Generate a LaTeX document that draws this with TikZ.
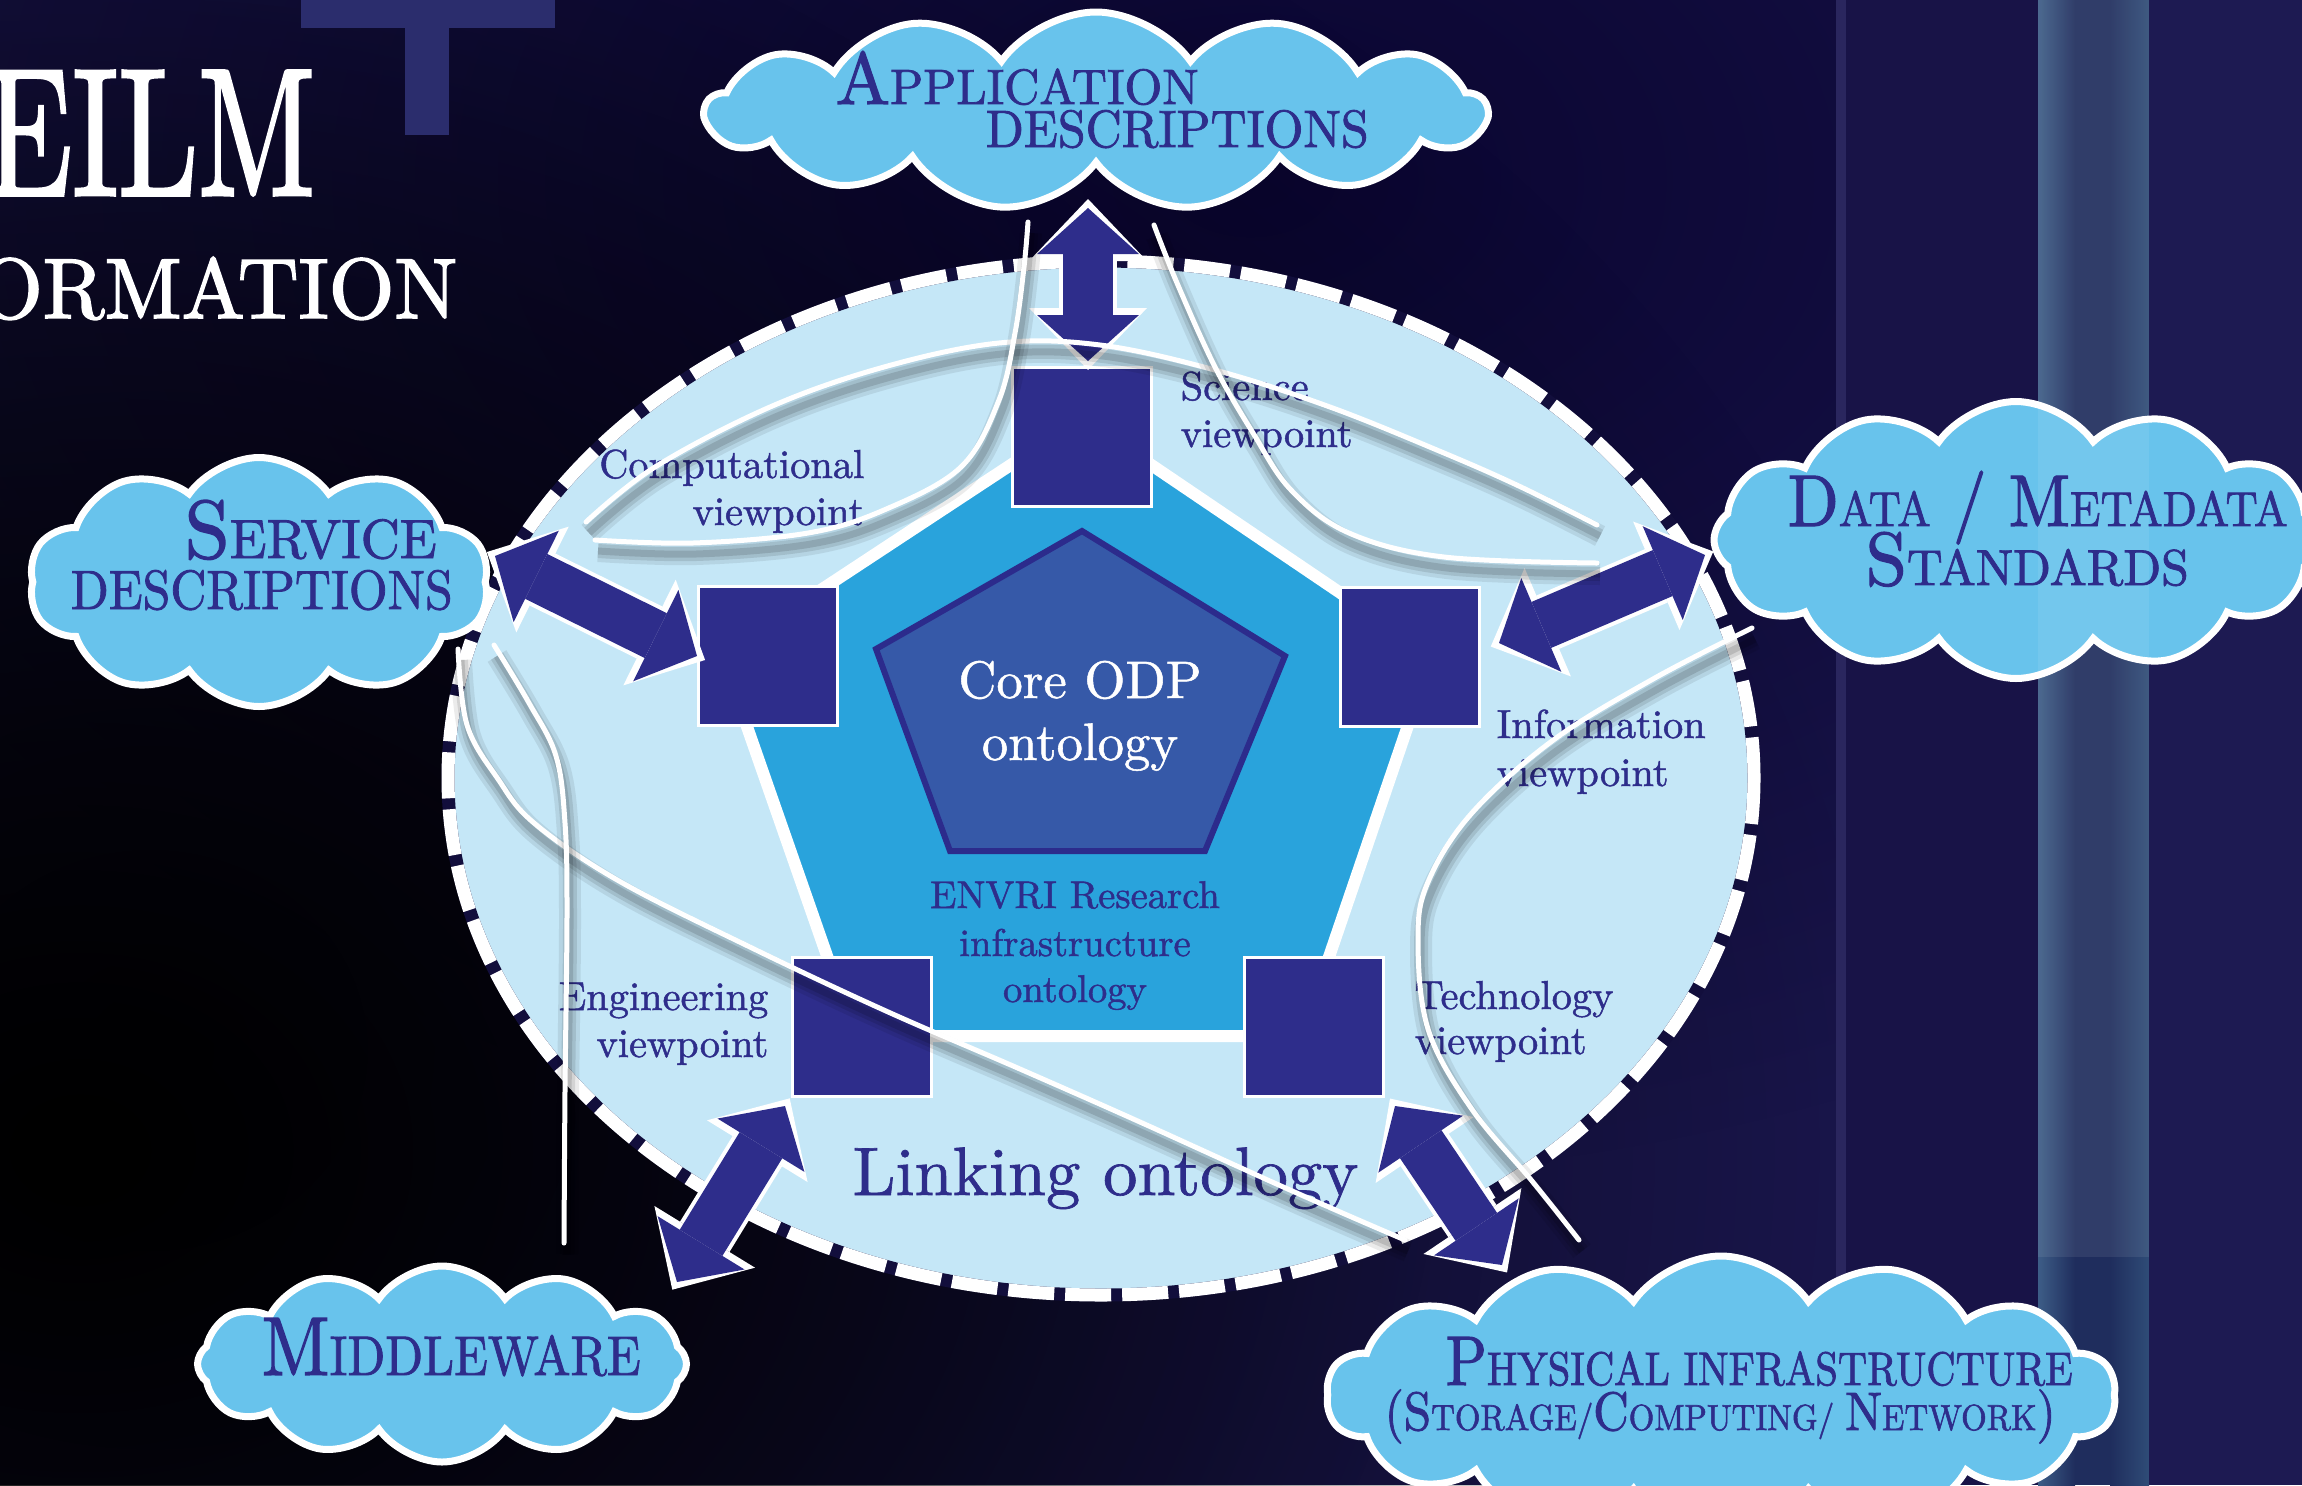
\documentclass[tikz,border=0pt]{standalone}
\usepackage{graphicx}
\usetikzlibrary{shapes.symbols,arrows.meta,fadings}

\definecolor{bg}{HTML}{1B1750}
\definecolor{bgdeep}{HTML}{0A0530}
\definecolor{ink}{HTML}{2E2D8B}
\definecolor{cloudblue}{HTML}{68C3EC}
\definecolor{lensblue}{HTML}{C5E7F7}
\definecolor{pentblue}{HTML}{29A3DC}
\definecolor{corefill}{HTML}{3659A8}
\definecolor{coreline}{HTML}{2C2B8C}
\definecolor{crossbar}{HTML}{2B2D6D}
\definecolor{stripeA}{HTML}{181347}
\definecolor{stripeEdge}{HTML}{2A265E}
\definecolor{stripeL}{HTML}{3D5D87}
\definecolor{stripeM}{HTML}{1F2D5D}
\definecolor{stripeR}{HTML}{2F4C77}
\definecolor{rightbg}{HTML}{1D1A52}
\definecolor{ellipseedge}{HTML}{120E3C}

% slightly emboldened Latin Modern cuts for the lettering
\font\vpfont="[lmroman10-regular.otf]:embolden=1.2" at 11.5pt
\font\envfont="[lmroman10-regular.otf]:embolden=1.2" at 11pt
\font\corefont="[lmroman10-regular.otf]:embolden=1.0" at 15pt
\font\linkfont="[lmroman10-regular.otf]:embolden=1.0" at 19.5pt
\font\capbigfont="[lmroman10-regular.otf]:embolden=1.6" at 20pt
\font\capsmlfont="[lmroman10-regular.otf]:embolden=1.6" at 13.4pt
\font\titlefont="[lmroman10-regular.otf]:embolden=2.0" at 60pt
\font\subtitlefont="[lmroman10-regular.otf]:embolden=2.0" at 40pt

\tikzfading[name=glowfade, inner color=transparent!0, outer color=transparent!100]

\tikzset{
  viewbox/.style={draw=white, line width=0.3mm, fill=ink, minimum width=13.9mm,
    minimum height=13.9mm, inner sep=0pt},
  cloudnode/.style={cloud, cloud ignores aspect, cloud puff arc=110, draw=white,
    line width=0.7mm, fill=cloudblue, inner sep=0pt},
  vplabel/.style={text=ink, inner sep=0pt, font=\vpfont},
  envlabel/.style={text=ink, inner sep=0pt, anchor=base, font=\envfont},
  cloudtext/.style={text=ink, inner sep=0pt, anchor=base west},
  arrowhalo/.style={draw=white, line width=5.8mm,
    {Triangle[width=11.8mm,length=6.2mm,line width=0pt]}-{Triangle[width=11.8mm,length=6.2mm,line width=0pt]},
    shorten <=-0.9mm, shorten >=-0.9mm},
  arrowbody/.style={draw=ink, line width=5mm,
    {Triangle[width=10.2mm,length=4.6mm,line width=0pt]}-{Triangle[width=10.2mm,length=4.6mm,line width=0pt]}},
}

% small-caps lettering built from two sizes of capitals
\newcommand\capbig[1]{{\capbigfont #1}}
\newcommand\capsml[1]{{\capsmlfont #1}}

% thick double-headed block arrow with a white rim
\newcommand\linkarrow[2]{\draw[arrowhalo] #1 -- #2; \draw[arrowbody] #1 -- #2;}

% thin white link line with a soft drop shadow
\newcommand\linkcurve[1]{%
  \begin{scope}[shift={(3,11)}]
    \draw[black, opacity=0.08, line width=2.2mm] plot[smooth, tension=0.6] coordinates {#1};
    \draw[black, opacity=0.10, line width=1.4mm] plot[smooth, tension=0.6] coordinates {#1};
    \draw[black, opacity=0.12, line width=0.7mm] plot[smooth, tension=0.6] coordinates {#1};
  \end{scope}
  \draw[white, line width=0.5mm, line cap=round] plot[smooth, tension=0.6] coordinates {#1};}

\begin{document}
\begin{tikzpicture}[x=0.1mm,y=-0.1mm]
\useasboundingbox (0,0) rectangle (2302,1485);
\clip (0,0) rectangle (2302,1485);

% ---- backdrop ----
\fill[bg] (0,0) rectangle (2302,1485);
\fill[bgdeep, path fading=glowfade] (1250,180) ellipse [x radius=1500, y radius=1000];
\fill[black, path fading=glowfade] (80,1150) ellipse [x radius=1900, y radius=1500];
\fill[black, opacity=0.6, path fading=glowfade] (150,1050) ellipse [x radius=1300, y radius=1200];
\fill[stripeA] (1836,0) rectangle (2038,1485);
\fill[stripeEdge] (1836,0) rectangle (1846,1485);
\fill[stripeM] (2038,0) rectangle (2149,1485);
\shade[left color=stripeL, right color=stripeM] (2038,0) rectangle (2075,1485);
\shade[left color=stripeM, right color=stripeR] (2110,0) rectangle (2149,1485);
\fill[rightbg] (2149,0) rectangle (2302,1485);

% cross ornament and heading fragments
\fill[crossbar] (301,-5) rectangle (555,28);
\fill[crossbar] (405,-5) rectangle (449,135);
\node[anchor=base east, inner sep=0pt, text=white] (titleA) at (316,195)
  {\resizebox{33mm}{12.4mm}{\titlefont EILM}};
\node[anchor=base east, inner sep=0pt, text=white] (titleB) at (458,318)
  {\resizebox{48mm}{6.1mm}{\subtitlefont ORMATION}};

% ---- linking ontology lens ----
\fill[lensblue] (1101,778) ellipse [x radius=653, y radius=517];
\draw[ellipseedge, line width=1.3mm] (1101,778) ellipse [x radius=653, y radius=517];
\draw[white, line width=1.3mm, dash pattern=on 4.6mm off 1.1mm] (1101,778) ellipse [x radius=653, y radius=517];

% ---- research infrastructure pentagon and core ----
\filldraw[fill=pentblue, draw=white, line width=1.2mm, line join=miter]
  (1082,418) -- (1432,655) -- (1302,1036) -- (855,1036) -- (722,655) -- cycle;
\filldraw[fill=corefill, draw=coreline, line width=0.6mm, line join=miter]
  (1082,531) -- (1285,656) -- (1205,851) -- (950,851) -- (876,649) -- cycle;
\node[text=white, inner sep=0pt, anchor=base, font=\corefont] (coreA) at (1080,698) {Core ODP};
\node[text=white, inner sep=0pt, anchor=base, font=\corefont] (coreB) at (1080,760) {ontology};
\node[envlabel] (envA) at (1075,908) {ENVRI Research};
\node[envlabel] (envB) at (1075,956) {infrastructure};
\node[envlabel] (envC) at (1075,1002) {ontology};
\node[text=ink, inner sep=0pt, anchor=base west, font=\linkfont] (linking) at (852,1195) {Linking ontology};

% ---- viewpoint boxes ----
\node[viewbox] (sci)  at (1082,437) {};
\node[viewbox] (comp) at (768,656) {};
\node[viewbox] (info) at (1410,657) {};
\node[viewbox] (eng)  at (862,1027) {};
\node[viewbox] (tech) at (1314,1027) {};

% ---- description clouds ----
\node[cloudnode, cloud puffs=13, minimum width=78mm, minimum height=19.8mm] (app) at (1096,111) {};
\node[cloudnode, cloud puffs=10, minimum width=46mm, minimum height=24.9mm] (svc) at (259,582) {};
\node[cloudnode, cloud puffs=12, minimum width=60.4mm, minimum height=27.7mm] (data) at (2016,540) {};
\node[cloudnode, cloud puffs=12, minimum width=48.9mm, minimum height=19.6mm] (mid) at (442,1364) {};
\node[cloudnode, cloud puffs=14, minimum width=78.9mm, minimum height=27.8mm] (phys) at (1721,1395) {};

% light band crossing the right-hand cloud
\fill[white, opacity=0.08] (2038,0) rectangle (2149,1257);

% ---- arrows between viewpoints and descriptions ----
\linkarrow{([shift={(6,-5)}]sci.north)}{([shift={(-8,97)}]app.center)}
\linkarrow{(comp.west)}{([shift={(236,-26)}]svc.center)}
\linkarrow{([shift={(18,-14)}]info.east)}{([shift={(-311,15)}]data.center)}
\linkarrow{([shift={(-6,8)}]eng.south west)}{([shift={(235,-82)}]mid.center)}
\linkarrow{([shift={(10,8)}]tech.south east)}{([shift={(-219,-130)}]phys.center)}

% ---- cloud lettering ----
\node[cloudtext] (appA) at (835,104) {\resizebox{36.3mm}{5.3mm}{\capbig{A}\capsml{PPLICATION}}};
\node[cloudtext] (appB) at (985,147) {\resizebox{38.3mm}{3.7mm}{\capsml{DESCRIPTIONS}}};
\node[cloudtext] (svcA) at (184,558) {\resizebox{25.2mm}{5.8mm}{\capbig{S}\capsml{ERVICE}}};
\node[cloudtext] (svcB) at (70,609) {\resizebox{38.2mm}{3.9mm}{\capsml{DESCRIPTIONS}}};
\node[cloudtext] (dataA) at (1787,526) {\resizebox{50mm}{5.5mm}{\capbig{D}\capsml{ATA}\capbig{ / M}\capsml{ETADATA}}};
\node[cloudtext] (dataB) at (1865,585) {\resizebox{32.3mm}{5.3mm}{\capbig{S}\capsml{TANDARDS}}};
\node[cloudtext] (midA) at (261,1375) {\resizebox{37.9mm}{5.7mm}{\capbig{M}\capsml{IDDLEWARE}}};
\node[cloudtext] (physA) at (1445,1385) {\resizebox{62.7mm}{4.8mm}{\capbig{P}\capsml{HYSICAL INFRASTRUCTURE}}};
\node[cloudtext] (physB) at (1384,1430) {\resizebox{67.1mm}{4.06mm}{\capbig{(S}\capsml{TORAGE/}\capbig{C}\capsml{OMPUTING/ }\capbig{N}\capsml{ETWORK}\capbig{)}}};

% ---- viewpoint labels ----
\node[vplabel, anchor=base west] (sciA) at (1180,400) {Science};
\node[vplabel, anchor=base west] (sciB) at (1180,447) {viewpoint};
\node[vplabel, anchor=base east] (compA) at (865,478) {Computational};
\node[vplabel, anchor=base east] (compB) at (865,525) {viewpoint};
\node[vplabel, anchor=base west] (infoA) at (1496,738) {Information};
\node[vplabel, anchor=base west] (infoB) at (1496,786) {viewpoint};
\node[vplabel, anchor=base east] (engA) at (769,1010) {Engineering};
\node[vplabel, anchor=base east] (engB) at (769,1057) {viewpoint};
\node[vplabel, anchor=base west] (techA) at (1414,1009) {Technology};
\node[vplabel, anchor=base west] (techB) at (1414,1054) {viewpoint};

% ---- white link lines ----
\linkcurve{(586,522) (655,467) (770,407) (884,367) (999,343) (1100,345) (1215,370) (1330,407) (1444,453) (1521,487) (1597,525)}
\linkcurve{(1028,222) (1024,267) (1015,333) (999,400) (961,467) (884,510) (808,533) (693,543) (595,540)}
\linkcurve{(1154,225) (1177,283) (1215,367) (1253,433) (1291,490) (1349,533) (1444,557) (1597,563)}
\linkcurve{(458,649) (467,725) (498,779) (534,823) (619,881) (752,948) (886,1011) (1020,1069) (1140,1122) (1290,1190) (1405,1240)}
\linkcurve{(494,645) (529,703) (556,756) (565,823) (567,912) (565,1091) (564,1243)}
\linkcurve{(1752,628) (1653,679) (1552,741) (1471,814) (1428,882) (1418,939) (1428,1029) (1471,1108) (1532,1181) (1579,1240)}
\end{tikzpicture}
\end{document}
